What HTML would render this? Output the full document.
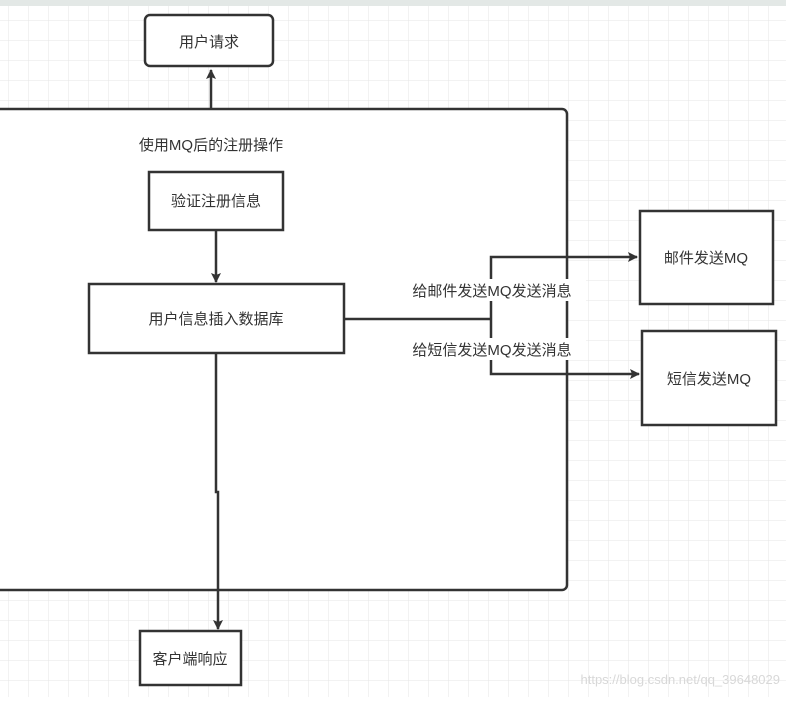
<!DOCTYPE html>
<html><head><meta charset="utf-8"><style>
body{margin:0;width:786px;height:697px;overflow:hidden;font-family:"Liberation Sans","Noto Sans CJK SC",sans-serif;}
</style></head><body>
<svg width="786" height="697" xmlns="http://www.w3.org/2000/svg" font-family="Liberation Sans, Noto Sans CJK SC, sans-serif">
<defs>
<pattern id="g" width="20" height="20" patternUnits="userSpaceOnUse" x="8" y="0">
<path d="M0 0V20M0 0H20" stroke="#e6e6e6" stroke-width="1" fill="none"/>
</pattern>
<marker id="a" markerWidth="10" markerHeight="10" refX="9" refY="5" orient="auto" markerUnits="userSpaceOnUse"><path d="M0 0L10 5L0 10L2 5Z" fill="#333"/></marker>
</defs>
<rect width="786" height="697" fill="#fff"/>
<rect width="786" height="697" fill="url(#g)"/>
<rect width="786" height="6" fill="#e3e8e6"/>
<rect x="-10" y="109" width="577" height="481" rx="5" fill="#fff" stroke="#333" stroke-width="2.5"/>
<rect x="145" y="15" width="128" height="51" rx="5" fill="#fff" stroke="#333" stroke-width="2.5"/>
<text x="209" y="47" text-anchor="middle" font-size="15" fill="#333">用户请求</text>
<path d="M211 109V70" stroke="#333" stroke-width="2.5" marker-end="url(#a)"/>
<text x="211" y="150" text-anchor="middle" font-size="15" fill="#333">使用MQ后的注册操作</text>
<rect x="149" y="172" width="134" height="58" fill="#fff" stroke="#333" stroke-width="2.5"/>
<text x="216" y="206" text-anchor="middle" font-size="15" fill="#333">验证注册信息</text>
<path d="M216 230V282" stroke="#333" stroke-width="2.5" marker-end="url(#a)"/>
<rect x="89" y="284" width="255" height="69" fill="#fff" stroke="#333" stroke-width="2.5"/>
<text x="216" y="324" text-anchor="middle" font-size="15" fill="#333">用户信息插入数据库</text>
<path d="M344 319H491" stroke="#333" stroke-width="2.5"/>
<path d="M491 319V257H637" stroke="#333" stroke-width="2.5" fill="none" marker-end="url(#a)"/>
<path d="M491 319V374H639" stroke="#333" stroke-width="2.5" fill="none" marker-end="url(#a)"/>
<rect x="398" y="279" width="188" height="22" fill="#fff"/>
<text x="492" y="296" text-anchor="middle" font-size="15" fill="#333">给邮件发送MQ发送消息</text>
<rect x="398" y="338" width="188" height="22" fill="#fff"/>
<text x="492" y="355" text-anchor="middle" font-size="15" fill="#333">给短信发送MQ发送消息</text>
<rect x="640" y="211" width="133" height="93" fill="#fff" stroke="#333" stroke-width="2.5"/>
<text x="706" y="263" text-anchor="middle" font-size="15" fill="#333">邮件发送MQ</text>
<rect x="642" y="331" width="134" height="94" fill="#fff" stroke="#333" stroke-width="2.5"/>
<text x="709" y="384" text-anchor="middle" font-size="15" fill="#333">短信发送MQ</text>
<path d="M216 353V492H218V629" stroke="#333" stroke-width="2.5" fill="none" marker-end="url(#a)"/>
<rect x="140" y="631" width="101" height="54" fill="#fff" stroke="#333" stroke-width="2.5"/>
<text x="190" y="664" text-anchor="middle" font-size="15" fill="#333">客户端响应</text>
<text x="780" y="684" text-anchor="end" font-size="13" fill="#d8d8d8">https://blog.csdn.net/qq_39648029</text>
</svg>
</body></html>
